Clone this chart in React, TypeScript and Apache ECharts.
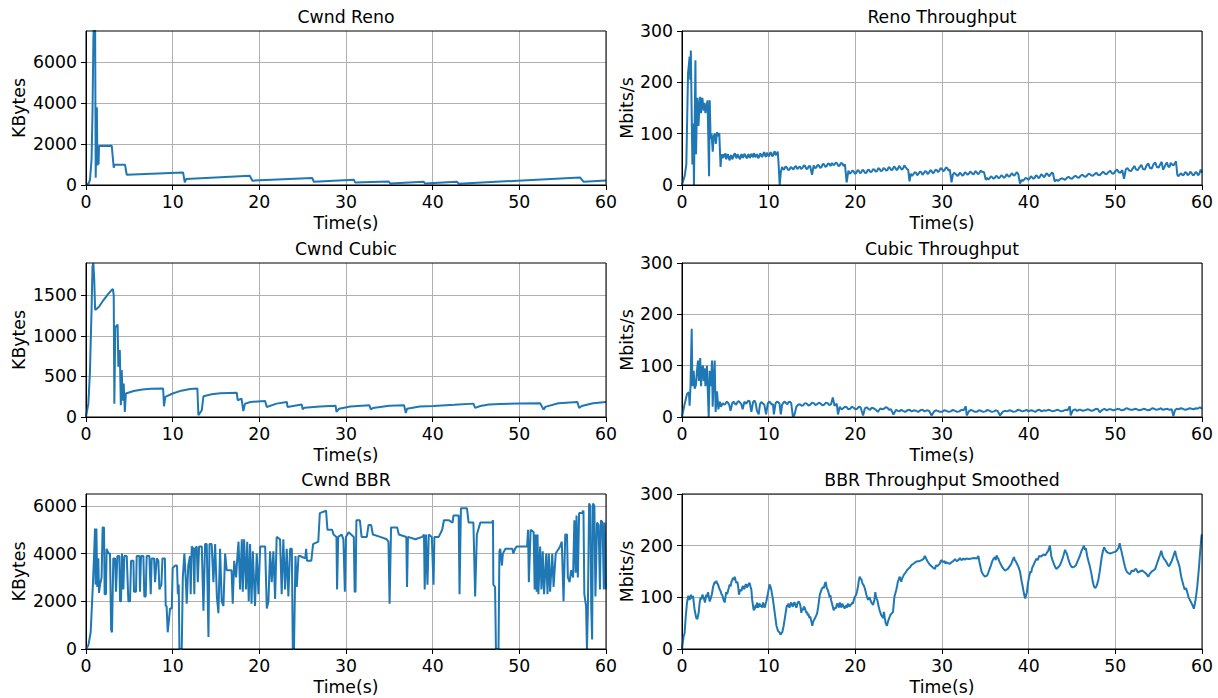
import React, { useEffect, useRef } from "react";
import * as echarts from "echarts";

const FONT = "DejaVu Sans";
const BLUE = "#1f77b4";

const xTicks = [0, 10, 20, 30, 40, 50, 60];
const renoCwndTicks = [0, 2000, 4000, 6000];
const cubicCwndTicks = [0, 500, 1000, 1500];
const bbrCwndTicks = [0, 2000, 4000, 6000];
const thrTicks = [0, 100, 200, 300];

const renoCwnd = [[0,0],[0.3,80],[0.46,250],[0.64,1230],[0.75,3500],[0.85,7000],[0.95,9000],[1.05,8000],[1.12,350],[1.25,3780],[1.32,950],[1.38,1300],[1.45,1000],[1.5,1900],[2.97,1910],[3.2,840],[3.3,990],[4.5,990],[4.7,500],[11.2,613],[11.4,130],[11.55,290],[18.9,450],[19.2,210],[26.1,340],[26.3,160],[30.9,260],[31.05,127],[34.9,175],[35.1,78],[38.95,160],[39.1,78],[42.8,160],[43.0,63],[57.0,370],[57.4,160],[60,224]];

const renoThr = [[0,0],[0.3,17],[0.5,40],[0.62,150],[0.7,218],[0.8,235],[0.88,250],[0.95,205],[1.02,262],[1.1,160],[1.2,40],[1.3,120],[1.38,0],[1.45,0],[1.55,243],[1.62,60],[1.7,133],[1.8,170],[1.9,115],[2.0,150],[2.1,172],[2.2,140],[2.35,170],[2.5,145],[2.6,160],[2.7,140],[2.8,150],[2.95,165],[3.05,80],[3.12,17],[3.2,165],[3.3,90],[3.4,100],[3.55,65],[3.65,95],[3.8,100],[3.9,80],[4.05,103],[4.15,95],[4.3,101],[4.45,35],[4.55,60],[4.7,52],[4.8,60],[4.9,54],[5.0,62],[5.1,50],[5.2,57],[5.3,60],[5.4,52],[5.5,48],[5.6,56],[5.7,58],[5.8,50],[5.9,54],[6.0,59],[6.1,62],[6.2,55],[6.3,52],[6.4,60],[6.5,57],[6.6,53],[6.7,50],[6.8,58],[6.9,60],[7.0,53],[7.1,55],[7.2,61],[7.3,58],[7.4,54],[7.5,52],[7.6,58],[7.7,60],[7.8,53],[7.9,55],[8.0,61],[8.1,57],[8.2,54],[8.3,62],[8.4,57],[8.5,54],[8.6,60],[8.7,58],[8.8,52],[8.9,55],[9.0,61],[9.1,60],[9.2,55],[9.3,56],[9.4,62],[9.5,64],[9.6,57],[9.7,55],[9.8,63],[9.9,60],[10.0,56],[10.1,58],[10.2,64],[10.3,62],[10.4,56],[10.5,57],[10.6,63],[10.7,66],[10.8,58],[10.9,60],[11.05,65],[11.15,40],[11.27,0],[11.4,25],[11.55,35],[11.7,30],[11.8,31],[11.95,36],[12.1,34],[12.25,29],[12.4,30],[12.55,35],[12.7,33],[12.85,30],[13.0,35],[13.15,37],[13.3,31],[13.45,34],[13.6,36],[13.75,31],[13.9,33],[14.05,38],[14.2,37],[14.35,31],[14.5,32],[14.65,37],[14.8,36],[15.0,20],[15.2,38],[15.35,33],[15.5,34],[15.65,39],[15.8,38],[15.95,33],[16.1,35],[16.25,41],[16.4,40],[16.55,35],[16.7,37],[16.85,42],[17.0,41],[17.15,37],[17.3,43],[17.45,39],[17.6,40],[17.75,44],[17.9,42],[18.05,37],[18.2,38],[18.35,43],[18.5,42],[18.65,37],[18.8,40],[19.0,5],[19.2,28],[19.35,22],[19.5,24],[19.65,28],[19.8,27],[19.95,22],[20.1,23],[20.25,29],[20.4,28],[20.55,23],[20.7,25],[20.85,30],[21.0,27],[21.15,23],[21.3,24],[21.45,30],[21.6,29],[21.75,25],[21.9,26],[22.05,31],[22.2,30],[22.35,26],[22.5,27],[22.65,33],[22.8,31],[22.95,27],[23.1,28],[23.25,33],[23.4,32],[23.55,28],[23.7,29],[23.85,35],[24.0,33],[24.15,29],[24.3,30],[24.45,36],[24.6,34],[24.75,29],[24.9,31],[25.05,37],[25.2,34],[25.35,30],[25.5,32],[25.65,38],[25.8,35],[25.95,31],[26.1,30],[26.25,7],[26.4,22],[26.55,18],[26.7,21],[26.85,25],[27.0,24],[27.15,19],[27.3,22],[27.45,26],[27.6,25],[27.75,20],[27.9,23],[28.05,27],[28.2,26],[28.35,21],[28.5,24],[28.65,29],[28.8,27],[28.95,23],[29.1,25],[29.25,30],[29.4,29],[29.55,25],[29.7,28],[29.85,33],[30.0,31],[30.15,27],[30.3,29],[30.45,34],[30.6,33],[30.75,28],[30.9,30],[31.1,5],[31.25,20],[31.4,24],[31.6,21],[31.75,18],[31.9,19],[32.05,24],[32.2,22],[32.35,18],[32.5,20],[32.65,25],[32.8,23],[32.95,20],[33.1,22],[33.25,26],[33.4,24],[33.55,21],[33.7,22],[33.85,27],[34.0,25],[34.15,21],[34.3,23],[34.45,28],[34.6,26],[34.85,25],[35.05,10],[35.2,14],[35.35,11],[35.5,13],[35.65,17],[35.8,15],[35.95,12],[36.1,14],[36.25,18],[36.4,16],[36.55,13],[36.7,15],[36.85,19],[37.0,17],[37.15,14],[37.3,16],[37.45,21],[37.6,18],[37.75,16],[37.9,19],[38.05,23],[38.2,20],[38.35,18],[38.5,22],[38.65,25],[38.8,21],[39.0,3],[39.2,10],[39.35,8],[39.5,11],[39.65,14],[39.8,13],[39.95,10],[40.1,12],[40.25,17],[40.4,15],[40.55,12],[40.7,14],[40.85,19],[41.0,17],[41.15,13],[41.3,16],[41.45,21],[41.6,19],[41.75,15],[41.9,18],[42.05,23],[42.2,21],[42.35,17],[42.5,20],[42.65,24],[42.8,23],[43.0,7],[43.2,10],[43.4,8],[43.6,11],[43.8,13],[44.0,12],[44.2,10],[44.4,14],[44.6,16],[44.8,13],[45.0,12],[45.2,16],[45.4,18],[45.6,15],[45.8,14],[46.0,18],[46.2,20],[46.4,17],[46.6,16],[46.8,20],[47.0,22],[47.2,19],[47.4,18],[47.6,21],[47.8,24],[48.0,20],[48.2,19],[48.4,23],[48.6,26],[48.8,22],[49.0,21],[49.2,25],[49.4,28],[49.6,23],[49.8,22],[50.0,27],[50.2,30],[50.4,25],[50.6,24],[50.8,29],[51.0,12],[51.2,30],[51.4,33],[51.6,28],[51.8,27],[52.0,32],[52.2,37],[52.4,30],[52.6,29],[52.8,35],[53.0,39],[53.2,31],[53.4,30],[53.6,38],[53.8,42],[54.0,33],[54.2,32],[54.4,40],[54.6,44],[54.8,35],[55.0,34],[55.2,41],[55.35,45],[55.5,30],[55.65,34],[55.8,40],[55.95,44],[56.1,36],[56.25,35],[56.4,43],[56.55,40],[56.7,38],[56.85,42],[57.0,46],[57.15,20],[57.3,17],[57.45,21],[57.6,23],[57.75,19],[57.9,20],[58.05,25],[58.2,24],[58.35,19],[58.5,21],[58.65,26],[58.8,23],[58.95,19],[59.1,20],[59.25,25],[59.4,24],[59.55,19],[59.7,22],[59.85,30],[60,24]];

const cubicCwnd = [[0,0],[0.27,165],[0.45,540],[0.65,1360],[0.75,1860],[0.85,1895],[0.95,1700],[1.05,1330],[1.1,1322],[1.5,1360],[2.0,1440],[2.5,1510],[2.9,1560],[3.1,1580],[3.2,1500],[3.27,165],[3.38,1115],[3.5,1120],[3.65,1140],[3.73,620],[3.9,826],[4.02,145],[4.12,578],[4.25,200],[4.35,413],[4.48,62],[4.6,290],[5.5,320],[6.5,338],[7.5,348],[8.9,351],[9.0,132],[9.15,248],[10,290],[11,325],[12,345],[12.85,351],[12.97,21],[13.36,83],[13.55,256],[14.5,280],[15.5,292],[17.4,298],[17.5,207],[17.95,227],[18.15,74],[18.35,165],[19,185],[20.67,198],[20.86,124],[22,165],[23.17,186],[23.25,124],[24.9,153],[25.0,95],[25.2,115],[27,130],[28.8,140],[28.9,62],[29.2,103],[30.5,130],[32.7,145],[32.85,95],[33.1,110],[35,138],[36.7,145],[36.9,50],[37.05,103],[38.5,130],[40.1,136],[42.5,150],[44.7,165],[44.9,112],[45.5,135],[46.5,155],[47.8,161],[50,168],[52.4,169],[52.8,91],[53.0,125],[54.5,170],[56.7,186],[56.9,112],[57.2,135],[58.5,170],[60,186]];

const cubicThr = [[0,0],[0.3,25],[0.58,45],[0.8,48],[0.88,22],[0.98,60],[1.12,172],[1.2,60],[1.35,90],[1.46,55],[1.6,62],[1.73,90],[1.85,110],[1.95,70],[2.1,115],[2.2,60],[2.3,95],[2.42,100],[2.5,70],[2.6,95],[2.7,60],[2.88,100],[3.0,40],[3.08,0],[3.2,90],[3.35,60],[3.46,110],[3.54,20],[3.65,70],[3.77,110],[3.88,10],[4.04,50],[4.2,15],[4.35,30],[4.5,20],[4.7,27],[4.85,24],[5.0,25],[5.15,30],[5.3,28],[5.45,24],[5.6,12],[5.8,27],[5.95,30],[6.1,26],[6.25,24],[6.4,29],[6.55,31],[6.7,28],[6.85,25],[7.0,15],[7.2,30],[7.35,26],[7.5,28],[7.65,32],[7.8,31],[8.0,10],[8.2,29],[8.35,32],[8.5,27],[8.65,12],[8.85,5],[9.0,25],[9.15,29],[9.3,27],[9.5,24],[9.7,5],[9.9,26],[10.05,30],[10.2,28],[10.35,24],[10.5,25],[10.6,5],[10.8,27],[10.95,30],[11.1,29],[11.25,26],[11.4,5],[11.55,24],[11.7,28],[11.85,30],[12.0,27],[12.15,25],[12.3,29],[12.45,30],[12.6,27],[12.8,0],[12.95,3],[13.2,20],[13.4,24],[13.6,25],[13.8,22],[14.0,23],[14.2,27],[14.4,26],[14.6,22],[14.8,24],[15.0,28],[15.2,27],[15.4,23],[15.6,25],[15.8,28],[16.0,26],[16.2,23],[16.4,24],[16.6,28],[16.8,27],[17.0,23],[17.2,25],[17.4,38],[17.6,22],[17.85,26],[18.0,5],[18.2,20],[18.4,15],[18.6,17],[18.8,20],[19.0,19],[19.2,15],[19.4,16],[19.6,20],[19.8,18],[20.0,15],[20.2,16],[20.4,20],[20.6,19],[20.9,3],[21.1,17],[21.3,19],[21.5,16],[21.7,14],[21.9,18],[22.1,17],[22.3,15],[22.6,10],[22.9,17],[23.1,15],[23.3,16],[23.5,19],[23.7,18],[23.9,14],[24.1,15],[24.4,5],[24.7,14],[24.9,12],[25.1,11],[25.3,14],[25.5,12],[25.75,10],[26.0,13],[26.25,14],[26.5,11],[26.75,13],[27,12],[27.25,10],[27.5,13],[27.75,14],[28,11],[28.25,13],[28.5,12],[28.8,3],[29.1,11],[29.3,13],[29.5,12],[29.75,10],[30,10],[30.25,13],[30.5,12],[30.75,10],[31,11],[31.25,14],[31.5,12],[31.75,10],[32,11],[32.25,14],[32.5,13],[32.75,21],[32.85,3],[33.1,11],[33.35,14],[33.6,12],[33.8,10],[34,10],[34.25,13],[34.5,12],[34.75,10],[35,11],[35.25,14],[35.5,12],[35.75,10],[36,11],[36.2,13],[36.4,12],[36.7,3],[37.0,10],[37.25,12],[37.5,11],[37.75,13],[38,12],[38.25,10],[38.5,11],[38.75,14],[39,13],[39.25,11],[39.5,12],[39.75,14],[40,11],[40.25,13],[40.5,12],[40.75,10],[41,13],[41.25,14],[41.5,11],[41.75,13],[42,12],[42.25,14],[42.5,13],[42.75,11],[43,12],[43.25,14],[43.5,13],[43.75,11],[44,12],[44.25,14],[44.5,13],[44.75,21],[44.85,3],[45.1,13],[45.35,15],[45.6,12],[45.8,14],[46,14],[46.25,12],[46.5,13],[46.75,15],[47,14],[47.25,12],[47.5,13],[47.75,16],[48,15],[48.2,9],[48.5,14],[48.75,16],[49,13],[49.25,15],[49.5,15],[49.75,13],[50,14],[50.25,16],[50.5,15],[50.75,13],[51,14],[51.25,17],[51.5,16],[51.75,14],[52,14],[52.25,16],[52.5,15],[52.75,13],[53,14],[53.25,16],[53.5,15],[53.75,13],[54,14],[54.25,17],[54.5,16],[54.75,14],[55,15],[55.25,17],[55.5,14],[55.75,15],[56,16],[56.25,14],[56.5,15],[56.7,2],[56.9,14],[57.1,16],[57.3,15],[57.55,17],[57.8,16],[58.05,14],[58.3,15],[58.55,17],[58.8,16],[59.05,15],[59.3,17],[59.5,16],[59.75,19],[60,16]];

const bbrCwnd = [[0,0],[0.27,150],[0.54,700],[0.77,2500],[0.92,3800],[1.04,5050],[1.1,2700],[1.2,5050],[1.3,2600],[1.42,3800],[1.5,2350],[1.62,2700],[1.8,3000],[1.92,5100],[2.08,5100],[2.15,2300],[2.3,2300],[2.38,4200],[2.6,4000],[2.77,4000],[2.9,800],[3.0,700],[3.15,3800],[3.35,3800],[3.46,2400],[3.62,3900],[3.85,3900],[3.93,2000],[4.04,2000],[4.15,4000],[4.31,2500],[4.42,3900],[4.7,3900],[4.89,2000],[5.08,2000],[5.2,3700],[5.47,3700],[5.54,2400],[5.77,2400],[5.85,3900],[6.16,3900],[6.23,2400],[6.35,3900],[6.62,3900],[6.73,2200],[6.89,2200],[7.0,3900],[7.31,3900],[7.47,2300],[7.58,3800],[7.85,3800],[7.97,2800],[8.16,3800],[8.35,3700],[8.47,2500],[8.7,2700],[8.82,3800],[9.1,3800],[9.2,1800],[9.3,1800],[9.43,700],[9.7,1700],[9.9,1700],[10.0,3400],[10.3,3500],[10.5,3500],[10.6,2300],[10.7,2700],[10.78,0],[11.05,0],[11.17,3000],[11.35,4000],[11.43,3500],[11.55,2600],[11.62,1900],[11.8,3500],[12.0,3900],[12.08,2300],[12.2,4300],[12.4,4200],[12.5,2300],[12.58,4200],[12.78,4300],[12.9,2800],[13.05,4300],[13.36,4300],[13.55,1600],[13.74,4400],[13.93,4400],[14.13,500],[14.25,4400],[14.5,4400],[14.7,2800],[14.9,4400],[15.1,2200],[15.28,1500],[15.47,4200],[15.66,2000],[15.86,1800],[16.05,4000],[16.24,3300],[16.8,3300],[16.93,1900],[17.1,3700],[17.32,3000],[17.47,3900],[17.6,4500],[17.78,2500],[17.98,4600],[18.09,2400],[18.24,4600],[18.47,2500],[18.6,4500],[18.78,2000],[18.93,4400],[19.1,1900],[19.25,4100],[19.5,1800],[19.7,4000],[19.9,2300],[20.1,4300],[20.67,4300],[20.86,1700],[21.05,2000],[21.24,4100],[21.43,2800],[21.62,4100],[21.82,2100],[22.0,4700],[22.39,4600],[22.58,2300],[22.77,4600],[22.97,2500],[23.16,4200],[23.35,2200],[23.55,4200],[23.75,4200],[23.86,0],[24.0,0],[24.17,3900],[24.32,2600],[24.52,3900],[24.7,3900],[25.3,3800],[25.4,4200],[25.5,3700],[26.0,3700],[26.2,4400],[26.8,4500],[26.98,5700],[27.7,5800],[27.86,5000],[28.4,5000],[28.56,4800],[28.9,4700],[28.97,2500],[29.1,4700],[29.5,4800],[29.7,4600],[29.87,2400],[30.0,4700],[30.3,4900],[30.9,4700],[31.0,2400],[31.1,2400],[31.2,5400],[31.6,5400],[31.8,4700],[32.4,4700],[32.6,5200],[32.9,5200],[33.1,4800],[33.95,4700],[34.7,4600],[34.9,4500],[35.03,1900],[35.2,5100],[35.9,5100],[36.1,4800],[36.96,4700],[37.04,2600],[37.15,4700],[38.0,4600],[38.8,4700],[39.0,4800],[39.08,2500],[39.23,4800],[39.4,2700],[39.55,4800],[39.9,4700],[40.1,2700],[40.2,4700],[40.7,4700],[41.1,5000],[41.3,5400],[41.84,5400],[42.3,5300],[42.4,5600],[43.0,5600],[43.1,2300],[43.26,5900],[43.96,5900],[44.15,5300],[44.7,5300],[44.9,2200],[45.1,4800],[45.5,5300],[46.85,5300],[46.96,5400],[47.0,2700],[47.2,2600],[47.3,0],[47.6,0],[47.7,4100],[47.8,4200],[47.99,3500],[48.1,4000],[48.4,4200],[49.2,4200],[49.3,4000],[49.5,4200],[49.7,4300],[50.9,4300],[51.0,5000],[51.1,2800],[51.3,5000],[51.65,4900],[51.77,2500],[51.88,4800],[52.0,2400],[52.1,4800],[52.2,2300],[52.4,4300],[52.55,2500],[52.7,4100],[52.85,2300],[53.1,4000],[53.25,2300],[53.4,4000],[53.55,2400],[53.8,4000],[53.95,2600],[54.2,4000],[54.35,4100],[54.55,4200],[54.7,4300],[54.9,4500],[55.1,2000],[55.3,4800],[55.5,4800],[55.6,3000],[55.8,2800],[55.97,3300],[56.2,3000],[56.35,5400],[56.5,3200],[56.6,5600],[56.75,3000],[56.9,5700],[57.2,5700],[57.4,5800],[57.5,2300],[57.7,1800],[57.8,0],[57.9,1500],[58.05,6100],[58.2,6000],[58.3,1700],[58.4,400],[58.5,6100],[58.66,6000],[58.78,2200],[58.97,5300],[59.15,5200],[59.3,2500],[59.42,5400],[59.6,5300],[59.75,2500],[59.85,5300],[60,2500]];

const bbrThr = [[0,0],[0.19,25],[0.3,30],[0.42,60],[0.58,90],[0.73,103],[0.88,95],[1.04,105],[1.15,98],[1.27,103],[1.46,75],[1.65,60],[1.77,58],[1.92,70],[2.04,90],[2.15,100],[2.25,96],[2.35,105],[2.5,100],[2.65,90],[2.8,105],[2.9,101],[3.0,110],[3.2,92],[3.35,100],[3.45,106],[3.58,120],[3.68,125],[3.77,130],[3.87,127],[3.96,132],[4.05,128],[4.15,125],[4.35,115],[4.45,112],[4.54,107],[4.65,104],[4.8,95],[4.92,90],[5.1,110],[5.2,106],[5.3,112],[5.4,118],[5.5,125],[5.6,121],[5.7,130],[5.8,133],[5.88,138],[5.98,134],[6.08,140],[6.18,133],[6.27,128],[6.4,130],[6.5,118],[6.58,105],[6.66,112],[6.73,115],[6.85,112],[6.95,119],[7.04,122],[7.13,116],[7.23,118],[7.32,124],[7.42,125],[7.5,119],[7.6,122],[7.7,126],[7.8,128],[7.9,121],[8.0,115],[8.1,95],[8.27,75],[8.4,78],[8.5,85],[8.58,80],[8.65,90],[8.8,80],[8.88,86],[8.96,88],[9.05,82],[9.15,85],[9.25,80],[9.35,90],[9.45,84],[9.55,80],[9.65,88],[9.73,92],[9.92,108],[10.1,125],[10.2,121],[10.3,115],[10.5,95],[10.7,70],[10.9,45],[11.08,35],[11.27,32],[11.36,28],[11.46,30],[11.58,33],[11.73,45],[11.85,58],[11.96,70],[12.1,85],[12.2,82],[12.27,88],[12.4,80],[12.5,86],[12.6,90],[12.7,84],[12.8,82],[12.9,89],[13.0,90],[13.1,84],[13.2,80],[13.35,90],[13.5,92],[13.65,85],[13.77,70],[13.86,78],[13.96,75],[14.05,82],[14.15,80],[14.25,75],[14.35,70],[14.45,72],[14.5,65],[14.6,68],[14.7,60],[14.8,63],[14.9,55],[15.04,45],[15.12,52],[15.2,55],[15.35,60],[15.5,65],[15.6,70],[15.7,80],[15.8,92],[15.9,105],[16.0,110],[16.1,115],[16.27,120],[16.37,118],[16.46,125],[16.58,130],[16.7,118],[16.8,115],[16.9,110],[17.04,100],[17.12,104],[17.2,95],[17.35,85],[17.5,75],[17.65,80],[17.72,78],[17.8,82],[17.9,88],[18.0,85],[18.1,80],[18.2,90],[18.3,85],[18.4,80],[18.5,88],[18.58,85],[18.67,82],[18.77,78],[18.87,82],[18.96,85],[19.05,80],[19.15,88],[19.25,84],[19.35,82],[19.45,87],[19.54,85],[19.63,90],[19.73,88],[19.82,95],[19.92,100],[20.1,105],[20.2,112],[20.3,120],[20.4,132],[20.5,140],[20.6,136],[20.7,135],[20.8,128],[20.9,125],[21.0,122],[21.08,118],[21.18,112],[21.27,105],[21.37,100],[21.46,95],[21.55,98],[21.65,100],[21.75,94],[21.85,90],[21.95,88],[22.04,85],[22.12,90],[22.2,95],[22.3,110],[22.38,102],[22.45,98],[22.55,94],[22.65,85],[22.8,75],[22.9,70],[23.0,65],[23.1,63],[23.2,60],[23.3,72],[23.4,60],[23.5,50],[23.65,45],[23.8,55],[23.96,62],[24.05,66],[24.15,68],[24.25,70],[24.35,72],[24.5,100],[24.62,108],[24.73,115],[24.82,122],[24.9,130],[25.0,134],[25.1,140],[25.2,136],[25.3,130],[25.4,137],[25.5,140],[25.65,145],[25.8,148],[25.95,152],[26.1,155],[26.3,158],[26.5,163],[26.7,165],[26.85,167],[27.0,169],[27.2,170],[27.4,170],[27.65,172],[27.9,175],[28.0,180],[28.1,178],[28.25,172],[28.4,168],[28.6,163],[28.8,160],[29.0,157],[29.2,155],[29.3,162],[29.45,160],[29.6,163],[29.75,165],[29.85,170],[29.95,172],[30.1,168],[30.3,170],[30.4,165],[30.5,168],[30.7,166],[30.9,165],[31.1,168],[31.3,170],[31.5,174],[31.7,170],[31.9,172],[32.06,176],[32.25,172],[32.45,175],[32.6,173],[32.8,175],[33.1,174],[33.4,175],[33.7,176],[34.0,175],[34.2,180],[34.3,170],[34.43,160],[34.56,150],[34.75,144],[34.95,140],[35.2,142],[35.35,148],[35.5,155],[35.65,162],[35.8,170],[35.95,175],[36.1,178],[36.2,172],[36.3,181],[36.37,178],[36.5,175],[36.6,170],[36.75,165],[36.9,160],[37.1,155],[37.25,152],[37.4,153],[37.6,155],[37.8,160],[38.0,165],[38.15,172],[38.3,178],[38.4,172],[38.5,170],[38.65,165],[38.8,160],[39.0,150],[39.1,140],[39.2,130],[39.3,122],[39.37,115],[39.5,104],[39.6,98],[39.7,104],[39.8,110],[39.88,122],[39.95,130],[40.05,140],[40.2,150],[40.3,148],[40.4,157],[40.5,160],[40.7,168],[40.9,175],[41.05,172],[41.2,180],[41.45,179],[41.7,183],[41.9,181],[42.05,185],[42.25,190],[42.35,195],[42.45,200],[42.55,188],[42.6,180],[42.75,172],[42.9,165],[43.05,159],[43.2,155],[43.4,158],[43.6,162],[43.8,170],[44.0,180],[44.1,186],[44.2,192],[44.3,188],[44.4,185],[44.56,175],[44.75,165],[44.9,160],[45.06,158],[45.25,159],[45.45,162],[45.6,168],[45.7,172],[45.9,180],[46.1,190],[46.25,195],[46.37,200],[46.5,192],[46.6,195],[46.75,180],[46.9,170],[47.06,160],[47.25,145],[47.4,130],[47.52,122],[47.64,118],[47.78,120],[47.9,125],[48.05,135],[48.2,150],[48.32,165],[48.45,180],[48.58,190],[48.7,197],[48.85,192],[49.0,188],[49.2,186],[49.4,185],[49.6,186],[49.76,187],[49.95,188],[50.14,190],[50.3,194],[50.4,197],[50.5,205],[50.6,196],[50.7,190],[50.8,182],[50.9,175],[51.0,167],[51.1,160],[51.25,152],[51.4,148],[51.55,146],[51.7,145],[51.9,152],[52.1,150],[52.25,154],[52.4,155],[52.6,148],[52.8,150],[53.1,152],[53.4,148],[53.6,145],[53.8,140],[54.0,146],[54.2,150],[54.4,152],[54.6,155],[54.8,165],[55.0,175],[55.15,182],[55.3,190],[55.45,180],[55.6,175],[55.75,172],[55.9,168],[56.05,163],[56.2,160],[56.35,165],[56.5,170],[56.7,180],[56.9,190],[57.0,182],[57.1,175],[57.25,168],[57.4,160],[57.6,140],[57.75,130],[57.88,122],[58.0,115],[58.15,118],[58.3,110],[58.45,100],[58.6,95],[58.75,90],[58.9,85],[59.06,78],[59.18,88],[59.3,100],[59.45,120],[59.56,140],[59.66,160],[59.75,180],[59.85,200],[59.95,220],[60,222]];

const panels = [
  { title: "Cwnd Reno", yName: "KBytes", yMax: 7500, yInterval: 2000, yTicks: renoCwndTicks, data: renoCwnd },
  { title: "Reno Throughput", yName: "Mbits/s", yMax: 300, yInterval: 100, yTicks: thrTicks, data: renoThr },
  { title: "Cwnd Cubic", yName: "KBytes", yMax: 1900, yInterval: 500, yTicks: cubicCwndTicks, data: cubicCwnd },
  { title: "Cubic Throughput", yName: "Mbits/s", yMax: 300, yInterval: 100, yTicks: thrTicks, data: cubicThr },
  { title: "Cwnd BBR", yName: "KBytes", yMax: 6500, yInterval: 2000, yTicks: bbrCwndTicks, data: bbrCwnd },
  { title: "BBR Throughput Smoothed", yName: "Mbits/s", yMax: 300, yInterval: 100, yTicks: thrTicks, data: bbrThr },
];

const LEFTS = [86, 682];
const WIDTH = 520;
const TOPS = [31, 263, 494];
const HEIGHTS = [154, 154, 155];
const NAME_GAPS = [59, 47];
const FS = 17.3;

export default function App() {
  const ref = useRef<HTMLDivElement>(null);
  useEffect(() => {
    if (!ref.current) return;
    const chart = echarts.init(ref.current, null, { renderer: "svg" });
    const txt = { fontFamily: FONT, fontSize: FS, color: "#000" };
    const cells = panels.map((p, i) => ({ col: i % 2, row: Math.floor(i / 2) }));
    const plain = (v: number) => String(v);
    chart.setOption({
      animation: false,
      backgroundColor: "#fff",
      title: panels.map((p, i) => ({
        text: p.title,
        left: LEFTS[cells[i].col] + WIDTH / 2,
        top: TOPS[cells[i].row] - 22.5,
        textAlign: "center",
        padding: 0,
        textStyle: { ...txt, fontWeight: "normal" },
      })),
      grid: panels.map((p, i) => ({
        left: LEFTS[cells[i].col],
        top: TOPS[cells[i].row],
        width: WIDTH,
        height: HEIGHTS[cells[i].row],
        containLabel: false,
      })),
      xAxis: panels.map((p, i) => ({
        type: "value",
        gridIndex: i,
        min: 0,
        max: 60,
        interval: 10,
        name: "Time(s)",
        nameLocation: "middle",
        nameGap: 29,
        nameTextStyle: txt,
        axisLine: { show: true, lineStyle: { color: "#000", width: 1 } },
        axisTick: { show: true, length: 5, lineStyle: { color: "#000", width: 1 }, customValues: xTicks },
        axisLabel: { ...txt, margin: 8.5, customValues: xTicks, formatter: plain },
        splitLine: { show: true, lineStyle: { color: "#b0b0b0", width: 1 } },
      })),
      yAxis: panels.map((p, i) => ({
        type: "value",
        gridIndex: i,
        min: 0,
        max: p.yMax,
        interval: p.yInterval,
        name: p.yName,
        nameLocation: "middle",
        nameGap: NAME_GAPS[cells[i].col],
        nameTextStyle: txt,
        axisLine: { show: true, lineStyle: { color: "#000", width: 1 } },
        axisTick: { show: true, length: 5, lineStyle: { color: "#000", width: 1 }, customValues: p.yTicks },
        axisLabel: { ...txt, margin: 9, customValues: p.yTicks, formatter: plain },
        splitLine: { show: true, lineStyle: { color: "#b0b0b0", width: 1 } },
      })),
      graphic: panels.map((p, i) => ({
        type: "rect",
        silent: true,
        z: 100,
        shape: { x: LEFTS[cells[i].col], y: TOPS[cells[i].row], width: WIDTH, height: HEIGHTS[cells[i].row] },
        style: { fill: "none", stroke: "#000", lineWidth: 1 },
      })),
      series: panels.map((p, i) => ({
        type: "line",
        xAxisIndex: i,
        yAxisIndex: i,
        data: p.data,
        showSymbol: false,
        symbol: "none",
        clip: true,
        lineStyle: { color: BLUE, width: 2 },
        z: 5,
      })),
    });
    return () => chart.dispose();
  }, []);
  return <div ref={ref} style={{ position: "absolute", left: 0, top: 0, width: 1218, height: 698 }} />;
}
